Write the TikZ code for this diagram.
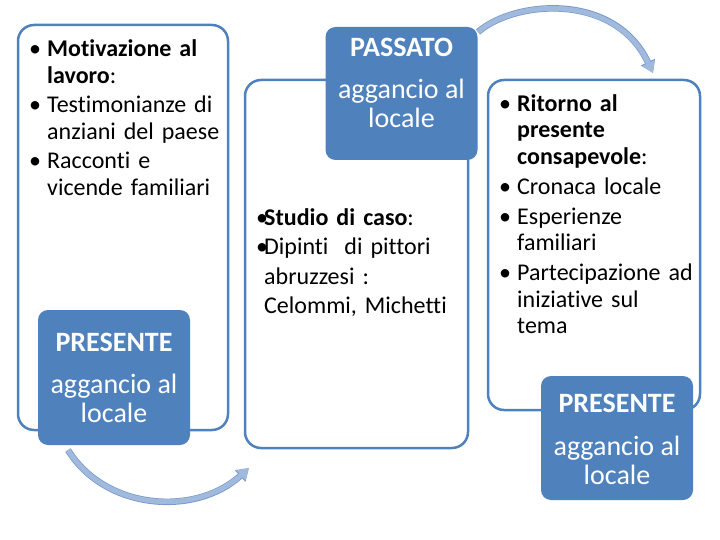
\documentclass[tikz,border=0pt]{standalone}
\usepackage{fontspec}
\setmainfont{Carlito}[RawFeature={-liga}]
\usetikzlibrary{arrows.meta,positioning}
\definecolor{boxblue}{RGB}{79,129,189}
\definecolor{linkblue}{RGB}{160,186,222}
\definecolor{linkedge}{RGB}{120,152,200}
% bullet line with hanging indent
\newcommand{\itm}[2][18pt]{\hangindent=#1\hangafter=1\noindent\makebox[#1][l]{•}#2\par}

\begin{document}
\begin{tikzpicture}[x=1pt, y=-1pt]
    \tikzstyle{frame} = [rectangle, draw=boxblue, line width=2.5pt, fill=white, rounded corners=16pt, inner sep=0pt]
    \tikzstyle{tag} = [rectangle, fill=boxblue, rounded corners=10pt, minimum width=152pt, inner sep=0pt]
    \tikzstyle{tagtext} = [text=white, align=center, font=\fontsize{28}{29}\selectfont]
    \tikzstyle{list} = [anchor=north west, inner sep=0pt, align=left, font=\fontsize{24}{27}\selectfont\setlength{\parskip}{2pt}]
    \tikzstyle{flow} = [line width=5pt, draw=linkblue, -{Triangle[length=11pt,width=13pt]}, preaction={draw=linkedge, line width=6.5pt, -{Triangle[length=12pt,width=15pt]}}]

    \useasboundingbox (0,0) rectangle (720,540);

    % outline boxes
    \node[frame, minimum width=210pt, minimum height=405pt] (lbox) at (123,227.5) {};
    \node[frame, minimum width=223pt, minimum height=368pt] (mbox) at (356.5,264) {};
    \node[frame, minimum width=212pt, minimum height=330pt] (rbox) at (594,245) {};

    % lists
    \node[list, text width=200pt] (ltxt) at (29,39) {%
        \itm{\textbf{Motivazione al}\newline\textbf{lavoro}:}%
        \itm{Testimonianze di\newline anziani del paese}%
        \itm{Racconti e\newline vicende familiari}};
    \node[list, text width=210pt, font=\fontsize{24}{29.5}\selectfont\setlength{\parskip}{0pt}] (mtxt) at (256,208) {%
        \itm[8pt]{\textbf{Studio di caso}:}%
        \itm[8pt]{Dipinti\ \ di pittori\newline abruzzesi :\newline Celommi, Michetti}};
    \node[list, text width=210pt, font=\fontsize{24}{26.5}\selectfont\setlength{\parskip}{3.5pt}] (rtxt) at (499,94) {%
        \itm[18pt]{\textbf{Ritorno al}\newline\textbf{presente}\newline\textbf{consapevole}:}%
        \itm[18pt]{Cronaca locale}%
        \itm[18pt]{Esperienze\newline familiari}%
        \itm[18pt]{Partecipazione ad\newline iniziative sul\newline tema}};

    % filled tags
    \node[tag, minimum height=135pt] (lpres) at (114,377.5) {};
    \node[tagtext] (lprestxt) at (lpres.center) {\textbf{PRESENTE}\\[13pt]aggancio al\\locale};
    \node[tag, minimum height=133pt] (past) at (401.5,93.5) {};
    \node[tagtext] (pasttxt) at (401.5,83) {\textbf{PASSATO}\\[13pt]aggancio al\\locale};
    \node[tag, minimum height=124pt] (rpres) at (617,438) {};
    \node[tagtext] (rprestxt) at ([yshift=-1pt]rpres.center) {\textbf{PRESENTE}\\[14pt]aggancio al\\locale};

    % curved links
    \coordinate (l1a) at (68,450);
    \coordinate (l1b) at (249,468);
    \coordinate (l2a) at (478,32);
    \coordinate (l2b) at (653,73);
    \draw[flow] (l1a) .. controls (105,510) and (195,517) .. (l1b);
    \draw[flow] (l2a) .. controls (515,0) and (615,-8) .. (l2b);
\end{tikzpicture}
\end{document}
